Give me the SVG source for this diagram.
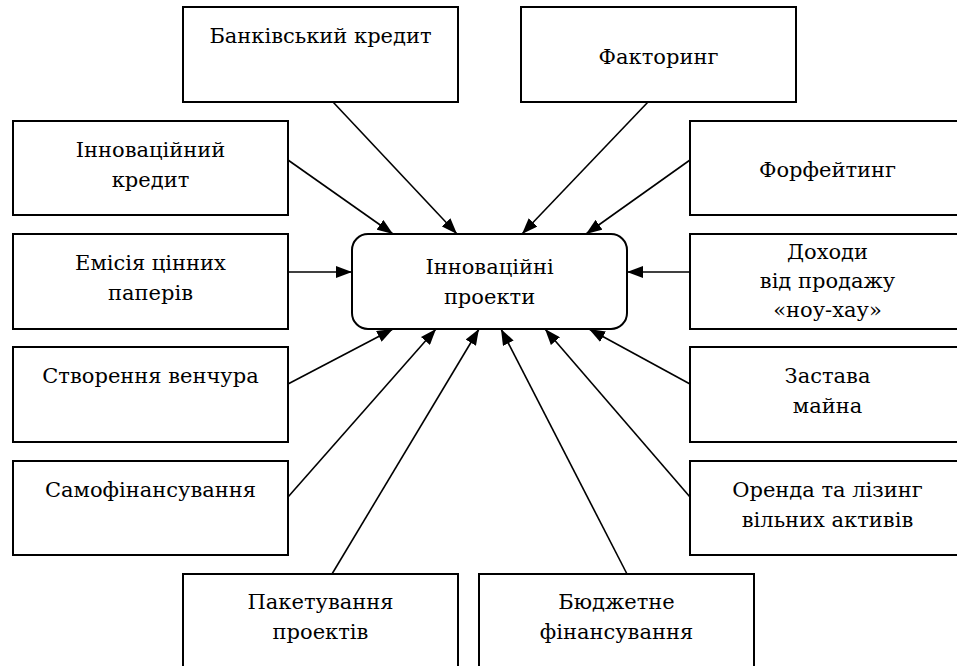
<svg xmlns="http://www.w3.org/2000/svg" width="957" height="666" viewBox="0 0 957 666">
<style>
.box{fill:#fff;stroke:#000;stroke-width:2}
.t{font-family:'DejaVu Serif','Liberation Serif',serif;font-size:21px;fill:#000;text-anchor:middle}
.c{stroke:#000;stroke-width:1.6;fill:none;marker-end:url(#ah)}
</style>
<defs>
<marker id="ah" viewBox="0 0 16 12" refX="16" refY="6" markerWidth="16" markerHeight="12" markerUnits="userSpaceOnUse" orient="auto">
<path d="M0,0 L16,6 L0,12 Z" fill="#000"/>
</marker>
</defs>
<rect width="957" height="666" fill="#fff"/>
<g id="connectors">
<line class="c" x1="288" y1="160" x2="393" y2="234"/>
<line class="c" x1="333" y1="102" x2="457" y2="234"/>
<line class="c" x1="648" y1="102" x2="522" y2="234"/>
<line class="c" x1="690" y1="160" x2="586" y2="234"/>
<line class="c" x1="288" y1="272" x2="352" y2="272"/>
<line class="c" x1="690" y1="272" x2="627" y2="272"/>
<line class="c" x1="288" y1="384" x2="393" y2="329"/>
<line class="c" x1="288" y1="497" x2="436" y2="329"/>
<line class="c" x1="332" y1="574" x2="479" y2="329"/>
<line class="c" x1="627" y1="574" x2="501" y2="329"/>
<line class="c" x1="690" y1="497" x2="545" y2="329"/>
<line class="c" x1="690" y1="384" x2="589" y2="329"/>
</g>
<g id="center">
<rect class="box" x="352" y="234" width="275" height="95" rx="16"/>
<text class="t" x="489.5" y="274">Інноваційні</text>
<text class="t" x="489.5" y="304">проекти</text>
</g>
<g id="bank">
<rect class="box" x="183" y="7" width="275" height="95"/>
<text class="t" x="320.5" y="43">Банківський кредит</text>
</g>
<g id="factoring">
<rect class="box" x="521" y="7" width="275" height="95"/>
<text class="t" x="658.5" y="64">Факторинг</text>
</g>
<g id="innov-credit">
<rect class="box" x="13" y="121" width="275" height="94"/>
<text class="t" x="150.5" y="157">Інноваційний</text>
<text class="t" x="150.5" y="187">кредит</text>
</g>
<g id="forfeiting">
<rect class="box" x="690" y="121" width="275" height="94"/>
<text class="t" x="827.5" y="177">Форфейтинг</text>
</g>
<g id="emission">
<rect class="box" x="13" y="234" width="275" height="95"/>
<text class="t" x="150.5" y="270">Емісія цінних</text>
<text class="t" x="150.5" y="300">паперів</text>
</g>
<g id="knowhow">
<rect class="box" x="690" y="234" width="275" height="95"/>
<text class="t" x="827.5" y="259">Доходи</text>
<text class="t" x="827.5" y="288">від продажу</text>
<text class="t" x="827.5" y="317">«ноу-хау»</text>
</g>
<g id="venture">
<rect class="box" x="13" y="347" width="275" height="95"/>
<text class="t" x="150.5" y="383">Створення венчура</text>
</g>
<g id="pledge">
<rect class="box" x="690" y="347" width="275" height="95"/>
<text class="t" x="827.5" y="383">Застава</text>
<text class="t" x="827.5" y="413">майна</text>
</g>
<g id="selffin">
<rect class="box" x="13" y="461" width="275" height="94"/>
<text class="t" x="150.5" y="497">Самофінансування</text>
</g>
<g id="lease">
<rect class="box" x="690" y="461" width="275" height="94"/>
<text class="t" x="827.5" y="497">Оренда та лізинг</text>
<text class="t" x="827.5" y="527">вільних активів</text>
</g>
<g id="packaging">
<rect class="box" x="183" y="574" width="275" height="100"/>
<text class="t" x="320.5" y="609">Пакетування</text>
<text class="t" x="320.5" y="639">проектів</text>
</g>
<g id="budget">
<rect class="box" x="479" y="574" width="275" height="100"/>
<text class="t" x="616.5" y="609">Бюджетне</text>
<text class="t" x="616.5" y="639">фінансування</text>
</g>
</svg>
